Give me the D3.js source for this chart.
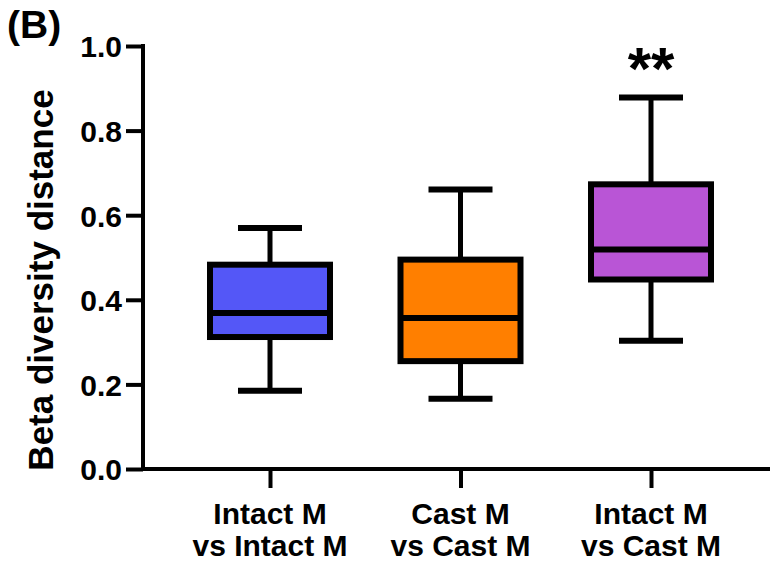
<!DOCTYPE html>
<html>
<head>
<meta charset="utf-8">
<script src="https://cdn.jsdelivr.net/npm/d3@7"></script>
<style>
  body { margin: 0; background: #fff; }
  text { font-family: "Liberation Sans", Arial, sans-serif; font-weight: bold; fill: #000; }
</style>
</head>
<body>
<div id="chart"></div>
<script>
// data
var groups = ["Intact M|vs Intact M", "Cast M|vs Cast M", "Intact M|vs Cast M"];
var whiskerLow = [0.185, 0.166, 0.303];
var q1 = [0.312, 0.255, 0.448];
var medians = [0.369, 0.357, 0.519];
var q3 = [0.483, 0.495, 0.673];
var whiskerHigh = [0.570, 0.661, 0.878];
var colors = ["#5457f7", "#ff7f00", "#b955d6"];
var marks = ["", "", "**"];
var yTicks = [0, 0.2, 0.4, 0.6, 0.8, 1.0];

var svgWidth = 772;
var svgHeight = 564;

var svg = d3.select("#chart")
    .append("svg")
    .attr("width", svgWidth)
    .attr("height", svgHeight);

var yScale = d3.scaleLinear()
    .domain([0, 1])
    .range([469, 46]);

var xScale = d3.scalePoint()
    .domain(groups)
    .range([270, 651]);

var boxes = groups.map(function(g, i) {
    return {g: g, lo: whiskerLow[i], q1: q1[i], med: medians[i], q3: q3[i], hi: whiskerHigh[i], color: colors[i], mark: marks[i]};
});

// y axis
var leftAxis = d3.axisLeft(yScale)
    .tickValues(yTicks)
    .tickFormat(d3.format(".1f"))
    .tickSize(17)
    .tickPadding(4);

var yAxis = svg.append("g")
    .attr("transform", "translate(143,0)")
    .call(leftAxis);
yAxis.select(".domain").remove();
yAxis.selectAll(".tick line").attr("stroke", "#000").attr("stroke-width", 4);
yAxis.selectAll(".tick text").style("font-size", "30px").attr("dy", "0.36em");

svg.append("line")
    .attr("x1", 143).attr("x2", 143)
    .attr("y1", yScale(1) - 2).attr("y2", yScale(0) + 2)
    .attr("stroke", "#000").attr("stroke-width", 4);

// x axis
var bottomAxis = d3.axisBottom(xScale)
    .tickSize(19)
    .tickFormat("");
var xAxis = svg.append("g")
    .attr("transform", "translate(0,469)")
    .call(bottomAxis);
xAxis.select(".domain").remove();
xAxis.selectAll(".tick line").attr("stroke", "#000").attr("stroke-width", 4);

svg.append("line")
    .attr("x1", 141).attr("x2", 770)
    .attr("y1", 469).attr("y2", 469)
    .attr("stroke", "#000").attr("stroke-width", 4);

// category labels
var labels = svg.selectAll("g.lab")
    .data(groups)
    .enter()
    .append("text")
    .attr("x", d => xScale(d))
    .attr("text-anchor", "middle")
    .style("font-size", "30px");
labels.append("tspan").attr("x", d => xScale(d)).attr("y", 524).text(d => d.split("|")[0]);
labels.append("tspan").attr("x", d => xScale(d)).attr("y", 556).text(d => d.split("|")[1]);

// boxes
var boxW = 120, capW = 64;
var gbox = svg.selectAll("g.box")
    .data(boxes)
    .enter()
    .append("g");

gbox.append("line")
    .attr("x1", d => xScale(d.g)).attr("x2", d => xScale(d.g))
    .attr("y1", d => yScale(d.hi)).attr("y2", d => yScale(d.lo))
    .attr("stroke", "#000").attr("stroke-width", 5);

gbox.append("line")
    .attr("x1", d => xScale(d.g) - capW / 2).attr("x2", d => xScale(d.g) + capW / 2)
    .attr("y1", d => yScale(d.hi)).attr("y2", d => yScale(d.hi))
    .attr("stroke", "#000").attr("stroke-width", 6);

gbox.append("line")
    .attr("x1", d => xScale(d.g) - capW / 2).attr("x2", d => xScale(d.g) + capW / 2)
    .attr("y1", d => yScale(d.lo)).attr("y2", d => yScale(d.lo))
    .attr("stroke", "#000").attr("stroke-width", 6);

gbox.append("rect")
    .attr("x", d => xScale(d.g) - boxW / 2)
    .attr("width", boxW)
    .attr("y", d => yScale(d.q3))
    .attr("height", d => yScale(d.q1) - yScale(d.q3))
    .attr("fill", d => d.color)
    .attr("stroke", "#000")
    .attr("stroke-width", 6);

gbox.append("line")
    .attr("x1", d => xScale(d.g) - boxW / 2).attr("x2", d => xScale(d.g) + boxW / 2)
    .attr("y1", d => yScale(d.med)).attr("y2", d => yScale(d.med))
    .attr("stroke", "#000").attr("stroke-width", 6);

gbox.append("text")
    .attr("x", d => xScale(d.g))
    .attr("y", 89)
    .attr("text-anchor", "middle")
    .style("font-size", "60px")
    .text(d => d.mark);

// axis title
svg.append("text")
    .attr("transform", "rotate(-90)")
    .attr("x", -280)
    .attr("y", 53)
    .attr("text-anchor", "middle")
    .style("font-size", "35px")
    .text("Beta diversity distance");

svg.append("text")
    .attr("x", 7)
    .attr("y", 38)
    .style("font-size", "39px")
    .text("(B)");
</script>
</body>
</html>
